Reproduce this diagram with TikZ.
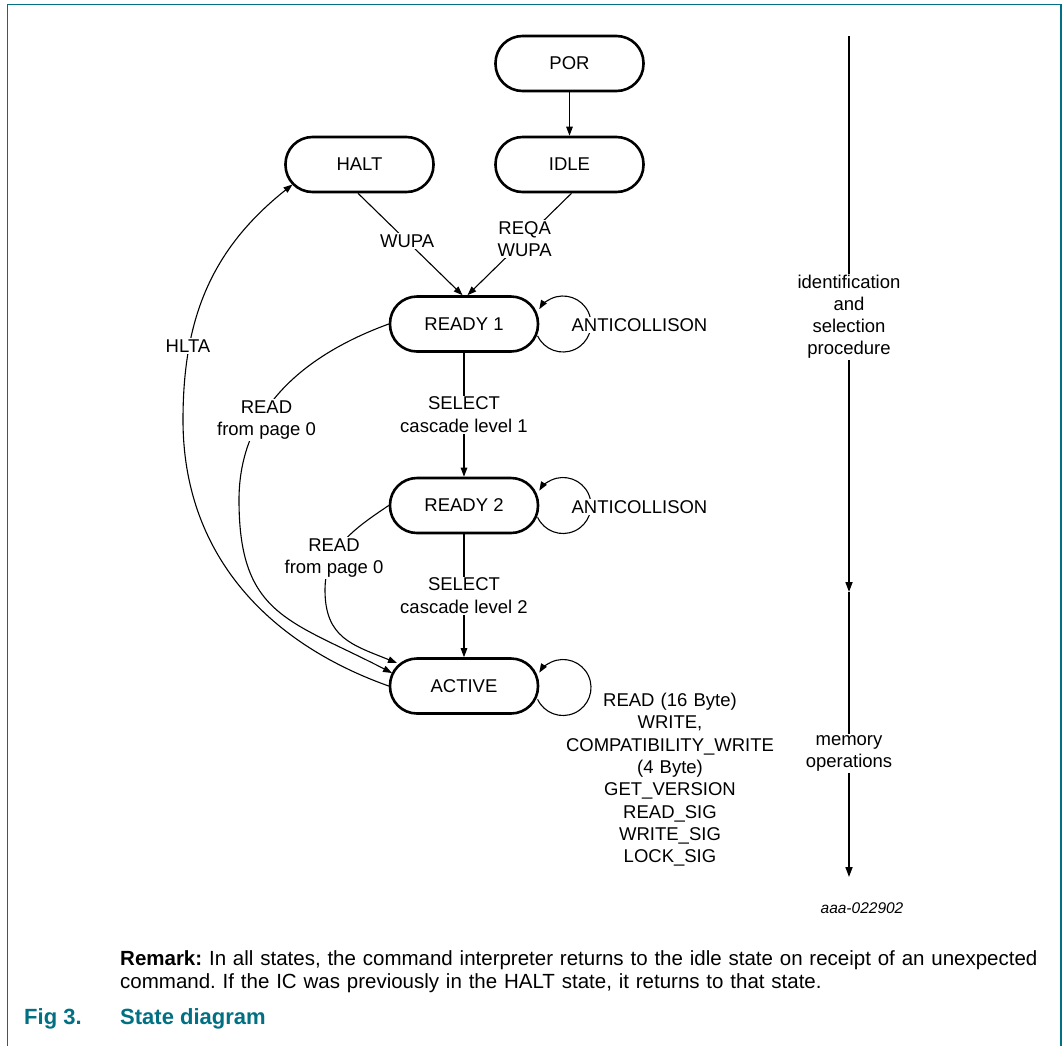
\documentclass[tikz,border=0pt]{standalone}
\usepackage{fontspec}
\setmainfont{Liberation Sans}
\usetikzlibrary{arrows.meta,calc}
\definecolor{nxpteal}{RGB}{0,112,130}
\frenchspacing
\begin{document}
\begin{tikzpicture}[x=1pt,y=1pt,
  dfont/.style={font=\fontsize{18.5}{22.4}\selectfont},
  state/.style={draw, line width=2.6pt, rounded corners=27pt, minimum width=148pt,
    minimum height=55pt, inner sep=0pt, fill=white, dfont},
  conn/.style={line width=1.1pt, -{Triangle[length=9pt,width=6.5pt]}},
  tline/.style={line width=1.6pt, -{Triangle[length=10pt,width=7pt]}},
  lbl/.style={fill=white, inner sep=1.5pt, align=center, dfont},
  frameline/.style={draw=nxpteal, line width=1.4pt},
  capt/.style={anchor=base west, inner sep=0pt, text=nxpteal, font=\bfseries\fontsize{22}{26}\selectfont}
]
\useasboundingbox (0,0) rectangle (1063,-1045);
\fill[white] (0,0) rectangle (1063,-1045);
\draw[frameline] (7.5,-1050) -- (7.5,-4.5) -- (1061,-4.5) -- (1061,-1050);

% states
\node[state] (por)  at (569.5,-63.5)  {POR};
\node[state] (idle) at (569.5,-164.5) {IDLE};
\node[state] (halt) at (359.5,-164.5) {HALT};
\node[state] (r1)   at (464,-324)     {READY 1};
\node[state] (r2)   at (464,-505.5)   {READY 2};
\node[state] (act)  at (464,-686)     {ACTIVE};

% straight transitions
\draw[conn] (por) -- (idle);
\draw[conn] ([xshift=-1.5pt]halt.south) -- node[lbl,pos=0.47] {WUPA} ([xshift=-1.5pt]r1.north);
\draw[conn] ([xshift=2pt]idle.south) -- node[lbl,pos=0.45] {REQA\\WUPA} ([xshift=3.5pt]r1.north);
\draw[conn] (r1) -- node[lbl] {SELECT\\cascade level 1} (r2);
\draw[conn] (r2) -- node[lbl] {SELECT\\cascade level 2} (act);

% self loops
\draw[conn] ($(r1.center)+(99,0)+(-155:28)$) arc[start angle=-155, end angle=148, radius=28];
\node[lbl] (ac1) at (639.5,-325) {ANTICOLLISON};
\draw[conn] ($(r2.center)+(99,0)+(-155:28)$) arc[start angle=-155, end angle=148, radius=28];
\node[lbl] (ac2) at (639.5,-507) {ANTICOLLISON};
\draw[conn] ($(act.center)+(99,-1.5)+(-155:28)$) arc[start angle=-155, end angle=148, radius=28];

% READ from page 0 (READY 1 -> ACTIVE)
\draw[conn] (r1.west) .. controls (304,-355) and (239,-409.5) .. (239,-500)
  .. controls (239,-616) and (290,-620) .. ($(act.center)+(-72,13)$);
\node[lbl] (rd1) at (266.5,-420) {READ\\from page 0};

% READ from page 0 (READY 2 -> ACTIVE)
\draw[conn] (r2.west) .. controls (354.4,-528.5) and (325,-548.7) .. (325,-590)
  .. controls (325,-638) and (352.5,-645) .. ($(act.center)+(-67,23)$);
\node[lbl] (rd2) at (334,-558) {READ\\from page 0};

% HLTA (ACTIVE -> HALT)
\draw[conn] (act.west) .. controls (265,-642) and (183,-552) .. (183,-420)
  .. controls (183,-320) and (210.3,-249.9) .. ($(halt.center)+(-67,-20)$);
\node[lbl] (hlta) at (188,-346) {HLTA};

% memory operations list
\node[anchor=base, inner sep=0pt, text width=260pt, align=center,
  font=\fontsize{18.5}{22.3}\selectfont] (memops) at (670,-706.5)
  {READ (16 Byte)\\WRITE,\\COMPATIBILITY\_WRITE\\(4 Byte)\\GET\_VERSION\\READ\_SIG\\WRITE\_SIG\\LOCK\_SIG};

% timeline
\coordinate (t0) at (849,-36);
\coordinate (t1) at (849,-592);
\coordinate (t2) at (849,-877);
\draw[tline] (t0) -- node[lbl,pos=0.505,font=\fontsize{18.5}{22}\selectfont] {identification\\and\\selection\\procedure} (t1);
\draw[tline] (t1) -- node[lbl,pos=0.568,font=\fontsize{18.5}{22}\selectfont] {memory\\operations} (t2);

\node[anchor=base, inner sep=0pt, font=\itshape\fontsize{15.5}{18}\selectfont] (code) at (862,-913) {aaa-022902};

% remark and caption
\node[anchor=base west, text width=960pt, align=left, inner sep=0pt,
  font=\fontsize{20.5}{22.6}\selectfont] (remark) at (120,-965.7)
  {\textbf{Remark:} In all states, the command interpreter returns to the idle state on receipt of an unexpected\\command. If the IC was previously in the HALT state, it returns to that state.};
\node[capt] (fignum) at (24,-1024) {Fig 3.};
\node[capt] (figtitle) at (120,-1024) {State diagram};
\end{tikzpicture}
\end{document}
